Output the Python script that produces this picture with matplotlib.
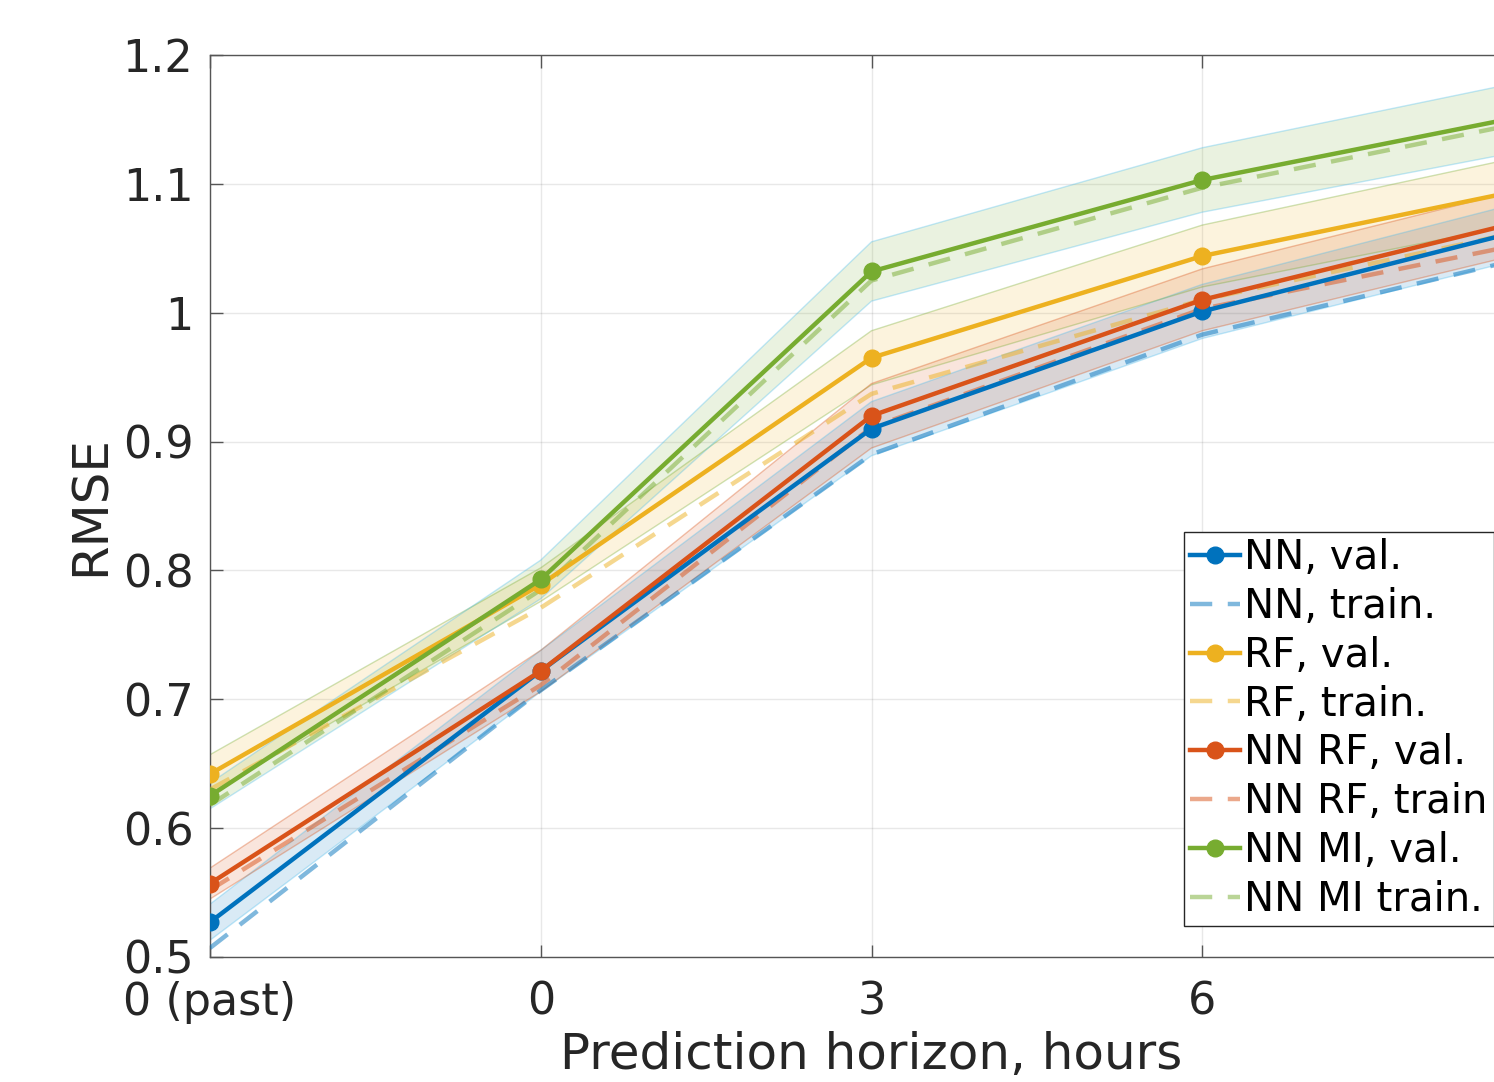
import numpy as np
import matplotlib.pyplot as plt


## data

horizon_labels = ['0 (past)', '0', '3', '6']
x_idx = np.arange(5)

nn_val = [0.527, 0.722, 0.910, 1.001, 1.066]
nn_train = [0.507, 0.707, 0.890, 0.983, 1.044]
nn_err = [0.014, 0.016, 0.021, 0.021, 0.022]

rf_val = [0.642, 0.789, 0.965, 1.044, 1.097]
rf_train = [0.630, 0.771, 0.937, 1.010, 1.065]
rf_err = [0.015, 0.013, 0.021, 0.024, 0.026]

nnrf_val = [0.557, 0.722, 0.920, 1.010, 1.073]
nnrf_train = [0.552, 0.711, 0.911, 1.003, 1.055]
nnrf_err = [0.012, 0.016, 0.025, 0.024, 0.025]

nnmi_val = [0.625, 0.793, 1.032, 1.103, 1.154]
nnmi_train = [0.618, 0.785, 1.025, 1.097, 1.149]
nnmi_err = [0.010, 0.015, 0.023, 0.025, 0.027]

yticks = [0.5, 0.6, 0.7, 0.8, 0.9, 1.0, 1.1, 1.2]
ytick_labels = ['0.5', '0.6', '0.7', '0.8', '0.9', '1', '1.1', '1.2']


## style

c_blue = '#0072BD'
c_red = '#D95319'
c_yel = '#EDB120'
c_grn = '#77AC30'
c_lblue = '#4DBEEE'
txt = '#262626'

series = [
    ('NN', nn_val, nn_train, nn_err, c_blue, c_lblue),
    ('RF', rf_val, rf_train, rf_err, c_yel, c_grn),
    ('NN RF', nnrf_val, nnrf_train, nnrf_err, c_red, c_red),
    ('NN MI', nnmi_val, nnmi_train, nnmi_err, c_grn, c_lblue),
]
train_names = ['NN, train.', 'RF, train.', 'NN RF, train', 'NN MI train.']

plt.rcParams['font.family'] = 'DejaVu Sans'

fig = plt.figure(figsize=(14.94, 10.82), dpi=100)
ax = fig.add_axes([210/1494, 125/1082, 1323/1494, 902/1082])


## bands

for name, val, train, err, col, ecol in series:
    v = np.array(val)
    e = np.array(err)
    ax.fill_between(x_idx, v - e, v + e, facecolor=col, alpha=0.15, lw=0)
    ax.plot(x_idx, v - e, color=ecol, alpha=0.35, lw=1)
    ax.plot(x_idx, v + e, color=ecol, alpha=0.35, lw=1)


## lines

handles = []
for k, (name, val, train, err, col, ecol) in enumerate(series):
    h1, = ax.plot(x_idx, val, '-o', color=col, lw=3.2, ms=12, label=name + ', val.', zorder=5)
    h2, = ax.plot(x_idx, train, '--', color=col, lw=3.2, alpha=0.5, dashes=(5, 3.5),
                  label=train_names[k], zorder=4)
    handles += [h1, h2]


## axes

ax.set_xlim(0, 4)
ax.set_ylim(0.5, 1.2)
ax.set_xticks(range(len(horizon_labels)))
ax.set_xticklabels(horizon_labels)
ax.set_yticks(yticks)
ax.set_yticklabels(ytick_labels)
ax.grid(True, color='#262626', alpha=0.1, lw=1)
ax.set_axisbelow(True)
ax.tick_params(direction='in', length=9, width=1, color='#555555', labelsize=32,
               labelcolor=txt, top=True, right=True)
ax.tick_params(axis='x', pad=17)
ax.tick_params(axis='y', pad=12)
for s in ax.spines.values():
    s.set_color('#555555')
    s.set_linewidth(1)

ax.set_xlabel('Prediction horizon, hours', fontsize=36, color=txt, labelpad=5)
ax.set_ylabel('RMSE', fontsize=36, color=txt, labelpad=6)

leg = ax.legend(handles=handles, loc='lower left', bbox_to_anchor=(1184/1494, 156/1082),
                bbox_transform=fig.transFigure, borderaxespad=0, fontsize=29,
                labelspacing=0.22, handlelength=1.25, handletextpad=0.1,
                borderpad=0.15, fancybox=False, framealpha=1, edgecolor='#262626')
leg.get_frame().set_linewidth(1)

plt.savefig('out.png', dpi=100)
